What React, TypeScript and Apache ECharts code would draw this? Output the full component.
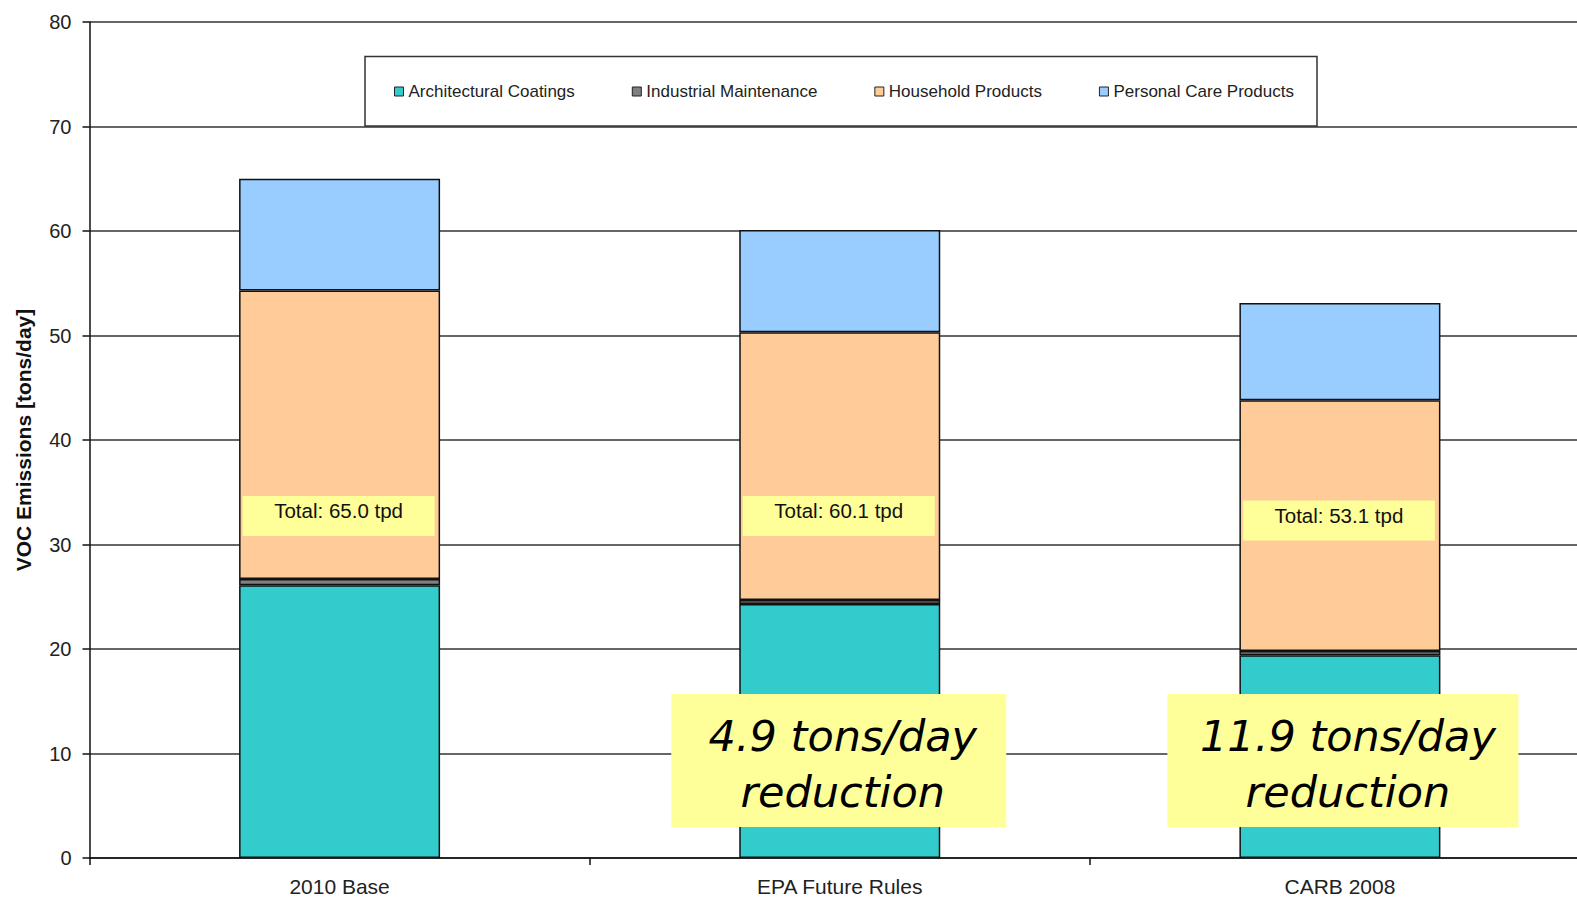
import React, { useEffect, useRef } from "react";
import * as echarts from "echarts";

const categories = ["2010 Base", "EPA Future Rules", "CARB 2008"];
const architecturalCoatings = [26.1, 24.3, 19.4];
const industrialMaintenance = [0.6, 0.4, 0.4];
const householdProducts = [27.6, 25.6, 24.0];
const personalCareProducts = [10.7, 9.8, 9.3];
const seriesNames = [
  "Architectural Coatings",
  "Industrial Maintenance",
  "Household Products",
  "Personal Care Products",
];
const seriesColors = ["#33CCCC", "#808080", "#FFCC99", "#99CCFF"];
// y-value at the top edge of each annotation box
const totalLabelTop = [34.65, 34.65, 34.2];
const reductionLabelTop = [15.7, 15.7];
const reductionCategoryIdx = [1, 2];

const FONT = "Liberation Sans, Arial, sans-serif";

export default function App() {
  const ref = useRef<HTMLDivElement>(null);
  useEffect(() => {
    if (!ref.current) return;
    const el = ref.current;
    const chart = echarts.init(el, undefined, { renderer: "svg" });
    const values = [architecturalCoatings, industrialMaintenance, householdProducts, personalCareProducts];
    const totals = categories.map((_, i) => values.reduce((sum, arr) => sum + arr[i], 0));
    const reductionWidths = [327, 341];
    const reductionPadLeft = [8, 10];
    const reductionOffsets = [-1, 3];

    chart.setOption({
      animation: false,
      textStyle: { fontFamily: FONT },
      grid: { left: 89.5, top: 22, width: 1500.5, height: 836 },
      graphic: [
        {
          type: "rect",
          z: 3,
          shape: { x: 365, y: 56.5, width: 952, height: 69.5 },
          style: { fill: "#fff", stroke: "#333", lineWidth: 1.5 },
        },
      ],
      legend: {
        z: 5,
        data: seriesNames,
        left: 394,
        top: 82.5,
        padding: 0,
        itemGap: 57,
        itemWidth: 9,
        itemHeight: 9,
        icon: "rect",
        itemStyle: { borderColor: "#222", borderWidth: 1 },
        textStyle: { fontSize: 17, color: "#222", fontFamily: FONT, lineHeight: 18 },
      },
      xAxis: {
        type: "category",
        data: categories,
        axisLine: { lineStyle: { color: "#111", width: 1.5 } },
        axisTick: { show: true, length: 7, lineStyle: { color: "#111", width: 1.5 } },
        axisLabel: { fontSize: 21, color: "#222", margin: 18, fontFamily: FONT },
      },
      yAxis: {
        type: "value",
        min: 0,
        max: 80,
        interval: 10,
        name: "VOC Emissions [tons/day]",
        nameLocation: "middle",
        nameGap: 56,
        nameTextStyle: { fontSize: 21, fontWeight: "bold", color: "#111", fontFamily: FONT },
        axisLine: { show: true, lineStyle: { color: "#111", width: 1.5 } },
        axisTick: { show: true, length: 7, lineStyle: { color: "#111", width: 1.5 } },
        axisLabel: { fontSize: 20, color: "#222", margin: 18, fontFamily: FONT },
        splitLine: { show: true, lineStyle: { color: "#333", width: 1.5 } },
      },
      series: [
        ...seriesNames.map((name, k) => ({
          name,
          type: "bar",
          stack: "total",
          barWidth: 201,
          data: values[k],
          itemStyle: { color: seriesColors[k], borderColor: "#111", borderWidth: 1.5 },
        })),
        {
          name: "totals",
          type: "scatter",
          symbolSize: 0,
          itemStyle: { color: "#FFFF99", opacity: 1 },
          z: 6,
          data: categories.map((_, i) => [i, totalLabelTop[i]]),
          label: {
            show: true,
            position: "inside",
            verticalAlign: "top",
            opacity: 1,
            offset: [-1, 0],
            formatter: (prm: any) => `Total: ${totals[prm.dataIndex].toFixed(1)} tpd`,
            backgroundColor: "#FFFF99",
            width: 192,
            padding: [5, 0, 15, 0],
            lineHeight: 20,
            fontSize: 20.5,
            align: "center",
            color: "#111",
            fontFamily: FONT,
          },
        },
        {
          name: "reductions",
          type: "scatter",
          symbolSize: 0,
          itemStyle: { color: "#FFFF99", opacity: 1 },
          z: 7,
          data: reductionCategoryIdx.map((ci, j) => ({
            value: [ci, reductionLabelTop[j]],
            label: {
              width: reductionWidths[j],
              padding: [14, 0, 7, reductionPadLeft[j]],
              offset: [reductionOffsets[j], 0],
            },
          })),
          label: {
            show: true,
            position: "inside",
            verticalAlign: "top",
            opacity: 1,
            formatter: (prm: any) => {
              const ci = reductionCategoryIdx[prm.dataIndex];
              return `${(totals[0] - totals[ci]).toFixed(1)} tons/day\nreduction`;
            },
            backgroundColor: "#FFFF99",
            lineHeight: 56,
            fontSize: 43,
            fontStyle: "italic",
            align: "center",
            color: "#000",
            fontFamily: "DejaVu Sans, Verdana, sans-serif",
          },
        },
      ],
    });
    return () => chart.dispose();
  }, []);
  return (
    <div
      ref={ref}
      style={{ position: "fixed", left: 0, top: 0, width: 1620, height: "100vh", background: "#fff" }}
    />
  );
}
